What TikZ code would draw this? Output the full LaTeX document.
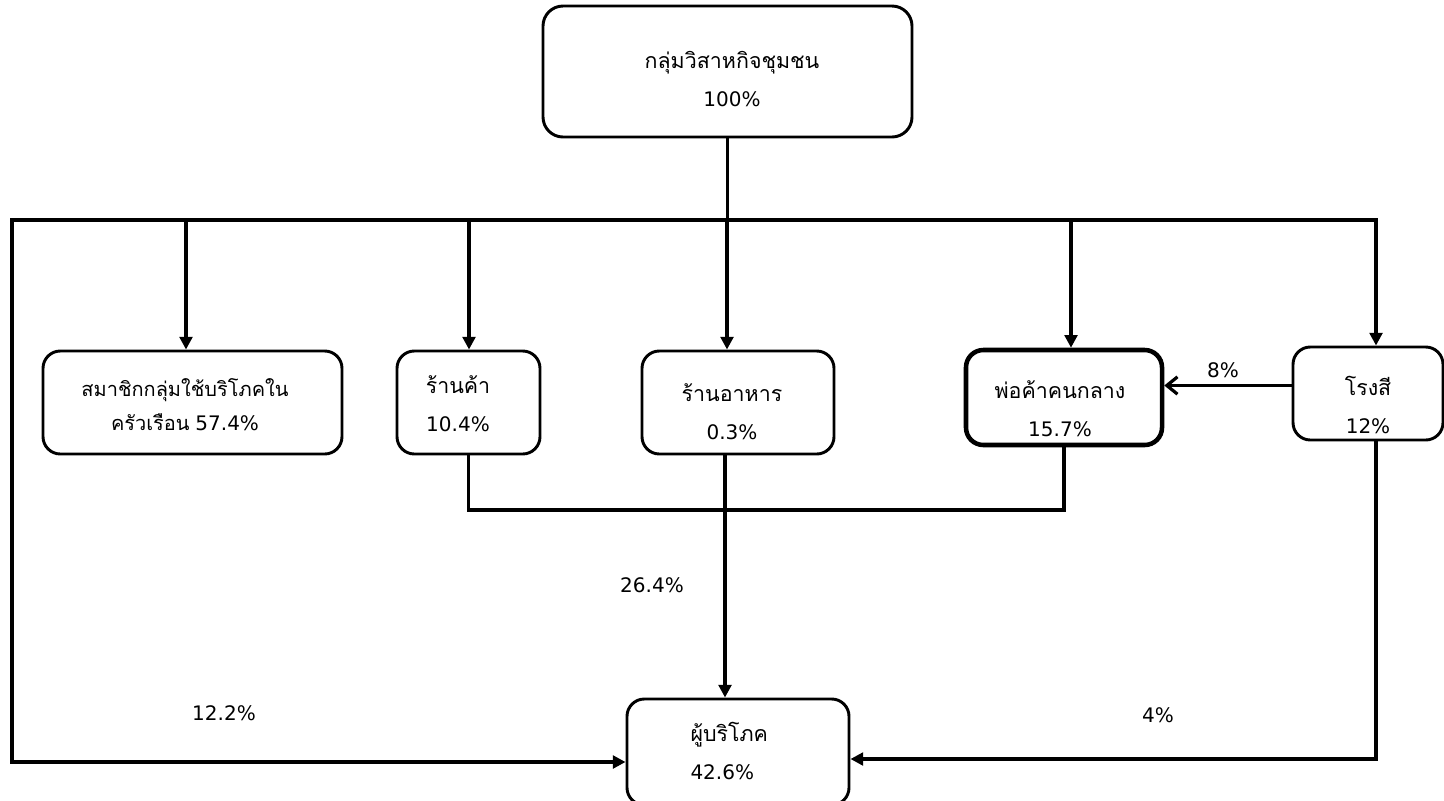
\documentclass[tikz,border=0pt]{standalone}
\usepackage{fontspec}
\setmainfont{DejaVu Sans}
\newfontfamily\thaifont[Script=Thai,Scale=1.07]{Loma}
\usetikzlibrary{arrows.meta}

\tikzset{every picture/.style={line width=0.75pt}}
\tikzset{
  flowbox/.style={draw, rounded corners=13pt, line width=2.2pt, inner sep=0pt},
  boxtext/.style={align=center, inner sep=0pt, font=\fontsize{15}{28.5}\selectfont},
  flowline/.style={line width=2.4pt},
  flowarrow/.style={line width=2.4pt, -{Triangle[length=9.5pt,width=9.5pt]}},
  openarrow/.style={line width=2.4pt, -{Straight Barb[length=8pt,width=13pt]}},
  pct/.style={inner sep=0.75pt, font=\fontsize{15}{18}\selectfont}
}

\begin{document}
\begin{tikzpicture}[x=0.75pt,y=0.75pt,yscale=-1,xscale=1]
        \useasboundingbox (0,0) rectangle (1444,800);

        % Boxes
        \node [flowbox, rounded corners=15pt, minimum width=276.75pt, minimum height=98.25pt] (group) at (727.5,71.5) {};
        \node [flowbox, minimum width=224.25pt, minimum height=77.25pt] (member) at (192.5,402.5) {};
        \node [flowbox, minimum width=107.25pt, minimum height=77.25pt] (shop) at (468.5,402.5) {};
        \node [flowbox, minimum width=144pt, minimum height=77.25pt] (food) at (738,402.5) {};
        \node [flowbox, line width=3.4pt, minimum width=147pt, minimum height=71.25pt] (trader) at (1064,397.5) {};
        \node [flowbox, minimum width=112.5pt, minimum height=69.75pt] (mill) at (1368,393.5) {};
        \node [flowbox, minimum width=166.5pt, minimum height=79.5pt] (buyer) at (738,752) {};

        % Box texts
        \node [boxtext] (groupt) at (732,79) {{\thaifont กลุ่มวิสาหกิจชุมชน}\\100\%};
        \node [boxtext, font=\fontsize{14}{25.5}\selectfont] (membert) at (185,405) {{\thaifont สมาชิกกลุ่มใช้บริโภคใน}\\{\thaifont ครัวเรือน} \fontsize{15}{25.5}\selectfont 57.4\%};
        \node [boxtext] (shopt) at (458,404) {{\thaifont ร้านค้า}\\10.4\%};
        \node [boxtext] (foodt) at (732,412) {{\thaifont ร้านอาหาร}\\0.3\%};
        \node [boxtext] (tradert) at (1060,409) {{\thaifont พ่อค้าคนกลาง}\\15.7\%};
        \node [boxtext] (millt) at (1368,405) {{\thaifont โรงสี}\\12\%};
        \node [boxtext, align=left, anchor=west] (buyert) at (690,751) {{\thaifont ผู้บริโภค}\\42.6\%};

        % Bus points
        \coordinate (busL) at (12,220);
        \coordinate (busR) at (1376,220);
        \coordinate (d1) at (186,220);
        \coordinate (d2) at (469,220);
        \coordinate (d3) at (727,220);
        \coordinate (d4) at (1071,220);
        \coordinate (mid) at (725,510);

        %Straight Lines
        \draw [flowline] (group.south) -- (group.south |- busL);
        \draw [flowarrow] (busL) -- (busR) -- (busR |- mill.north);
        \draw [flowarrow] (busR) -- (busL) |- ([yshift=7.5pt]buyer.west);
        \draw [flowarrow] (d1) -- (d1 |- member.north);
        \draw [flowarrow] (d2) -- (d2 |- shop.north);
        \draw [flowarrow] (d3) -- (d3 |- food.north);
        \draw [flowarrow] (d4) -- (d4 |- trader.north);
        \draw [openarrow] ([yshift=-6pt]mill.west) -- ([yshift=-6pt]mill.west -| trader.east);
        \draw [flowline] (shop.south) |- (mid) -| (trader.south);
        \draw [flowarrow] (food.south -| mid) -- (buyer.north -| mid);
        \draw [flowarrow] (mill.south -| busR) |- ([yshift=5.25pt]buyer.east);

        % Text Node
        \node [pct] (p8) at (1223,370) {8\%};
        % Text Node
        \node [pct] (p264) at (652,585) {26.4\%};
        % Text Node
        \node [pct] (p122) at (224,713) {12.2\%};
        % Text Node
        \node [pct] (p4) at (1158,715) {4\%};

    \end{tikzpicture}
\end{document}
